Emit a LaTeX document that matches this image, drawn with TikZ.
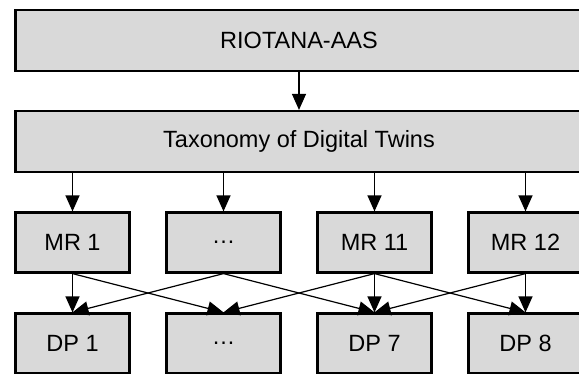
\documentclass[tikz,border=0pt]{standalone}
\usepackage{fontspec}
\setmainfont{Liberation Sans}
\usetikzlibrary{arrows.meta}
\definecolor{boxfill}{RGB}{217,217,217}
\tikzset{
  box/.style={draw=black, fill=boxfill, line width=2.2pt, inner sep=0pt,
    font=\fontsize{23.5}{28}\selectfont},
  wide/.style={box, minimum width=567pt, minimum height=61pt},
  small/.style={box, minimum width=114pt, minimum height=60pt},
  conn/.style={line width=1.2pt, -{Triangle[length=16pt,width=14pt]}}
}
\begin{document}
\begin{tikzpicture}[x=1pt,y=1pt]
\useasboundingbox (0,0) rectangle (579,-373);
\node[wide] (top) at (299,-40.5) {RIOTANA-AAS};
\node[wide] (tax) at (299,-141.5) {Taxonomy of Digital Twins};
\node[small] (mr1) at (72.5,-242.5) {MR 1};
\node[small] (mr2) at (223.5,-242.5) {\dots};
\node[small] (mr3) at (374.5,-242.5) {MR 11};
\node[small] (mr4) at (525.5,-242.5) {MR 12};
\node[small] (dp1) at (72.5,-343.5) {DP 1};
\node[small] (dp2) at (223.5,-343.5) {\dots};
\node[small] (dp3) at (374.5,-343.5) {DP 7};
\node[small] (dp4) at (525.5,-343.5) {DP 8};
\draw[conn] (top.south) -- (tax.north);
\foreach \m in {mr1,mr2,mr3,mr4}
  \draw[conn] (tax.south -| \m.north) -- (\m.north);
\draw[conn] (mr1.south) -- (dp1.north);
\draw[conn] (mr1.south) -- (dp2.north);
\draw[conn] (mr2.south) -- (dp1.north);
\draw[conn] (mr2.south) -- (dp3.north);
\draw[conn] (mr3.south) -- (dp2.north);
\draw[conn] (mr3.south) -- (dp3.north);
\draw[conn] (mr3.south) -- (dp4.north);
\draw[conn] (mr4.south) -- (dp3.north);
\draw[conn] (mr4.south) -- (dp4.north);
\end{tikzpicture}
\end{document}
